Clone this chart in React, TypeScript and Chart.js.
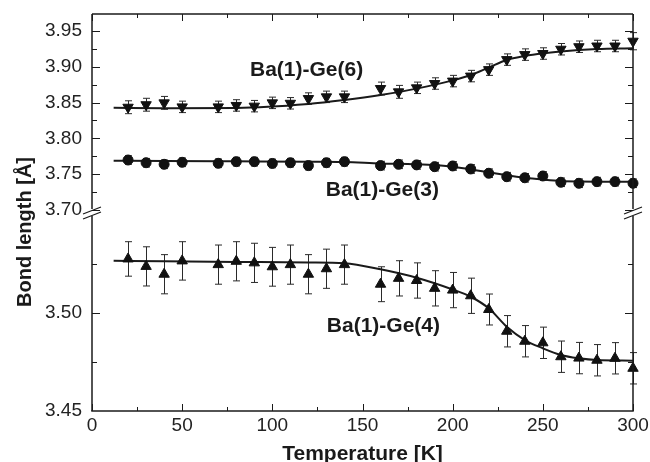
import React, { useEffect, useRef } from "react";
import { Chart, registerables } from "chart.js";

Chart.register(...registerables);

// ---------- data ----------
const temperatures = [20, 30, 40, 50, 70, 80, 90, 100, 110, 120, 130, 140, 160, 170, 180, 190, 200, 210, 220, 230, 240, 250, 260, 270, 280, 290, 300];

const ge6 = [3.8435, 3.847, 3.8496, 3.844, 3.844, 3.846, 3.845, 3.8496, 3.849, 3.8556, 3.858, 3.858, 3.8696, 3.865, 3.8706, 3.8766, 3.88, 3.887, 3.896, 3.91, 3.917, 3.9185, 3.9245, 3.928, 3.929, 3.929, 3.9357];
const ge6Err = [0.009, 0.009, 0.009, 0.008, 0.008, 0.008, 0.008, 0.008, 0.008, 0.008, 0.008, 0.008, 0.009, 0.009, 0.008, 0.008, 0.008, 0.008, 0.008, 0.008, 0.008, 0.008, 0.008, 0.008, 0.008, 0.008, 0.012];

const ge3 = [3.7698, 3.766, 3.7638, 3.7666, 3.7652, 3.7675, 3.7675, 3.765, 3.766, 3.762, 3.766, 3.7675, 3.762, 3.7638, 3.763, 3.7605, 3.7615, 3.7573, 3.7513, 3.7465, 3.745, 3.7475, 3.7387, 3.7373, 3.7396, 3.7396, 3.7373];
const ge3Err = [0.006, 0.006, 0.006, 0.006, 0.006, 0.006, 0.006, 0.006, 0.006, 0.006, 0.006, 0.006, 0.006, 0.006, 0.006, 0.006, 0.006, 0.006, 0.006, 0.006, 0.006, 0.006, 0.006, 0.006, 0.006, 0.006, 0.006];

const ge4 = [3.5276, 3.5238, 3.5198, 3.5266, 3.5247, 3.5264, 3.5256, 3.5236, 3.5247, 3.5198, 3.5226, 3.5247, 3.5147, 3.5177, 3.5166, 3.5126, 3.5117, 3.5088, 3.5018, 3.4907, 3.4856, 3.4848, 3.4777, 3.477, 3.4759, 3.4769, 3.4718];
const ge4Err = [0.0088, 0.01, 0.01, 0.0098, 0.01, 0.01, 0.01, 0.0099, 0.01, 0.01, 0.01, 0.01, 0.0089, 0.009, 0.009, 0.009, 0.009, 0.009, 0.0079, 0.008, 0.008, 0.008, 0.008, 0.008, 0.008, 0.008, 0.008];

// fitted curves
const fitT = [12, 40, 80, 120, 140, 160, 180, 200, 210, 220, 230, 240, 250, 260, 270, 280, 300];
const fit6 = [3.8428, 3.8422, 3.8425, 3.848, 3.8536, 3.8606, 3.8695, 3.881, 3.8885, 3.899, 3.9095, 3.915, 3.9188, 3.9215, 3.9235, 3.9248, 3.9258];
const fit3 = [3.7689, 3.7685, 3.768, 3.7675, 3.767, 3.765, 3.7638, 3.7605, 3.7567, 3.7527, 3.7485, 3.745, 3.7425, 3.7405, 3.7398, 3.7396, 3.7396];
const fit4 = [3.5267, 3.5264, 3.5261, 3.5258, 3.5254, 3.5223, 3.518, 3.512, 3.5083, 3.5024, 3.493, 3.4862, 3.482, 3.4786, 3.4769, 3.476, 3.4757];

// axes
const xMin = 0;
const xMax = 300;
const xTickValues = [0, 25, 50, 75, 100, 125, 150, 175, 200, 225, 250, 275, 300];
const xLabelStep = 50;
const upperMin = 3.6965;
const upperMax = 3.9737;
const upperTicks = [3.7, 3.725, 3.75, 3.775, 3.8, 3.825, 3.85, 3.875, 3.9, 3.925, 3.95];
const lowerMin = 3.45;
const lowerMax = 3.5513;
const lowerTicks = [3.45, 3.475, 3.5, 3.525];

const xTitle = "Temperature [K]";
const yTitle = "Bond length [Å]";
const labels = [
  { text: "Ba(1)-Ge(6)", x: 119, y: 3.8955, axis: "yTop" },
  { text: "Ba(1)-Ge(3)", x: 161, y: 3.7279, axis: "yTop" },
  { text: "Ba(1)-Ge(4)", x: 161.6, y: 3.4934, axis: "yBot" },
];

const FONT = '"Liberation Sans", Arial, Helvetica, sans-serif';
const INK = "#1a1a1a";

const isMajor = (v: number) => Math.abs(v * 20 - Math.round(v * 20)) < 1e-6;

const series = [
  { values: ge6, errors: ge6Err, axis: "yTop" },
  { values: ge3, errors: ge3Err, axis: "yTop" },
  { values: ge4, errors: ge4Err, axis: "yBot" },
];

const errorBarPlugin = {
  id: "errorBars",
  beforeDatasetsDraw(chart: any) {
    const { ctx, scales } = chart;
    const xs = scales.x;
    ctx.save();
    ctx.strokeStyle = "#2a2a2a";
    ctx.lineWidth = 1;
    for (const s of series) {
      const ys = scales[s.axis];
      temperatures.forEach((t, i) => {
        const px = Math.round(xs.getPixelForValue(t)) + 0.5;
        const y1 = ys.getPixelForValue(s.values[i] + s.errors[i]);
        const y2 = ys.getPixelForValue(s.values[i] - s.errors[i]);
        ctx.beginPath();
        ctx.moveTo(px, y1);
        ctx.lineTo(px, y2);
        ctx.moveTo(px - 3.5, y1);
        ctx.lineTo(px + 3.5, y1);
        ctx.moveTo(px - 3.5, y2);
        ctx.lineTo(px + 3.5, y2);
        ctx.stroke();
      });
    }
    ctx.restore();
  },
};

const framePlugin = {
  id: "frame",
  afterDraw(chart: any) {
    const { ctx, chartArea, scales } = chart;
    const { left, right, top, bottom } = chartArea;
    const xs = scales.x;
    const yT = scales.yTop;
    const yB = scales.yBot;
    const brk = Math.max(yT.bottom, yB.top) === yT.bottom ? yT.bottom : yB.top;
    const seg = (a: number, b: number, c: number, d: number) => {
      ctx.beginPath();
      ctx.moveTo(a, b);
      ctx.lineTo(c, d);
      ctx.stroke();
    };
    ctx.save();
    ctx.strokeStyle = INK;
    ctx.lineWidth = 1.5;
    seg(left, top, right, top);
    seg(left - 0.75, bottom, right + 0.75, bottom);
    const gap = 3.5;
    seg(left, top, left, brk - gap);
    seg(left, brk + gap, left, bottom);
    seg(right, top, right, brk - gap);
    seg(right, brk + gap, right, bottom);

    ctx.lineWidth = 1;
    for (const v of xTickValues) {
      const px = Math.round(xs.getPixelForValue(v)) + 0.5;
      const len = v % xLabelStep === 0 ? 7 : 4;
      seg(px, bottom, px, bottom - len);
      seg(px, top, px, top + len);
    }
    const yTicks = (scale: any, vals: number[]) => {
      for (const v of vals) {
        const py = Math.round(scale.getPixelForValue(v)) + 0.5;
        const len = isMajor(v) ? 8 : 5;
        seg(left, py, left + len, py);
        seg(right, py, right - len, py);
      }
    };
    yTicks(yT, upperTicks);
    yTicks(yB, lowerTicks.filter((v) => v > lowerMin));

    // axis break marks
    ctx.lineWidth = 1.2;
    for (const sx of [left, right]) {
      seg(sx - 9, brk + 1.5, sx + 9, brk - 5.5);
      seg(sx - 9, brk + 6.5, sx + 9, brk - 0.5);
    }

    // series labels
    ctx.fillStyle = INK;
    ctx.font = `bold 21px ${FONT}`;
    ctx.textAlign = "center";
    ctx.textBaseline = "middle";
    for (const l of labels) {
      ctx.fillText(l.text, xs.getPixelForValue(l.x), scales[l.axis].getPixelForValue(l.y));
    }

    // axis titles
    ctx.textBaseline = "alphabetic";
    ctx.fillText(xTitle, (left + right) / 2, 460);
    ctx.save();
    ctx.translate(31, 232);
    ctx.rotate(-Math.PI / 2);
    ctx.font = `bold 20px ${FONT}`;
    ctx.fillText(yTitle, 0, 0);
    ctx.restore();
    ctx.restore();
  },
};

const tickFont = { family: FONT, size: 19 };

export default function App() {
  const ref = useRef<HTMLCanvasElement | null>(null);
  useEffect(() => {
    if (!ref.current) return;
    const pts = (vals: number[]) => temperatures.map((t, i) => ({ x: t, y: vals[i] }));
    const fit = (vals: number[]) => fitT.map((t, i) => ({ x: t, y: vals[i] }));
    const markerBase = {
      showLine: false,
      pointBackgroundColor: "#111",
      pointBorderColor: "#111",
      pointBorderWidth: 1,
      clip: false as any,
      order: 0,
    };
    const fitBase = {
      showLine: true,
      pointRadius: 0,
      borderColor: INK,
      borderWidth: 2,
      cubicInterpolationMode: "monotone" as const,
      fill: false,
      order: 1,
    };
    const yCommon = (min: number, max: number, vals: number[]) => ({
      type: "linear",
      position: "left",
      stack: "y",
      stackWeight: 1,
      min,
      max,
      grid: { display: false, drawTicks: false },
      border: { display: false },
      ticks: {
        autoSkip: false,
        padding: 10,
        color: "#222",
        font: tickFont,
        callback: (v: any) => (isMajor(Number(v)) ? Number(v).toFixed(2) : ""),
      },
      afterBuildTicks: (s: any) => {
        s.ticks = vals.map((v) => ({ value: v }));
      },
      afterFit: (s: any) => {
        s.width = 92;
        s.paddingTop = 0;
        s.paddingBottom = 0;
      },
    });
    const chart = new Chart(ref.current, {
      type: "scatter",
      data: {
        datasets: [
          { ...markerBase, label: "Ba(1)-Ge(6)", data: pts(ge6), yAxisID: "yTop", pointStyle: "triangle", pointRotation: 180, pointRadius: 6 } as any,
          { ...markerBase, label: "Ba(1)-Ge(3)", data: pts(ge3), yAxisID: "yTop", pointStyle: "circle", pointRadius: 5 } as any,
          { ...markerBase, label: "Ba(1)-Ge(4)", data: pts(ge4), yAxisID: "yBot", pointStyle: "triangle", pointRadius: 6 } as any,
          { ...fitBase, label: "fit6", data: fit(fit6), yAxisID: "yTop" } as any,
          { ...fitBase, label: "fit3", data: fit(fit3), yAxisID: "yTop" } as any,
          { ...fitBase, label: "fit4", data: fit(fit4), yAxisID: "yBot" } as any,
        ],
      },
      options: {
        animation: false,
        responsive: false,
        maintainAspectRatio: false,
        devicePixelRatio: 1,
        layout: { padding: { top: 14, right: 17, left: 0, bottom: 0 } },
        plugins: { legend: { display: false }, tooltip: { enabled: false } },
        scales: {
          x: {
            type: "linear",
            position: "bottom",
            min: xMin,
            max: xMax,
            grid: { display: false, drawTicks: false },
            border: { display: false },
            ticks: {
              stepSize: 25,
              autoSkip: false,
              maxRotation: 0,
              padding: 3,
              color: "#222",
              font: tickFont,
              callback: (v: any) => (Number(v) % xLabelStep === 0 ? String(v) : ""),
            },
            afterBuildTicks: (s: any) => {
              s.ticks = xTickValues.map((v) => ({ value: v }));
            },
            afterFit: (s: any) => {
              s.height = 51;
              s.paddingLeft = 0;
              s.paddingRight = 0;
            },
          },
          yBot: yCommon(lowerMin, lowerMax, lowerTicks),
          yTop: yCommon(upperMin, upperMax, upperTicks),
        } as any,
      },
      plugins: [errorBarPlugin, framePlugin],
    });
    return () => chart.destroy();
  }, []);

  return (
    <div style={{ position: "absolute", left: 0, top: 0, width: 650, height: 462, background: "#fff" }}>
      <canvas ref={ref} width={650} height={462} style={{ display: "block" }} />
    </div>
  );
}
